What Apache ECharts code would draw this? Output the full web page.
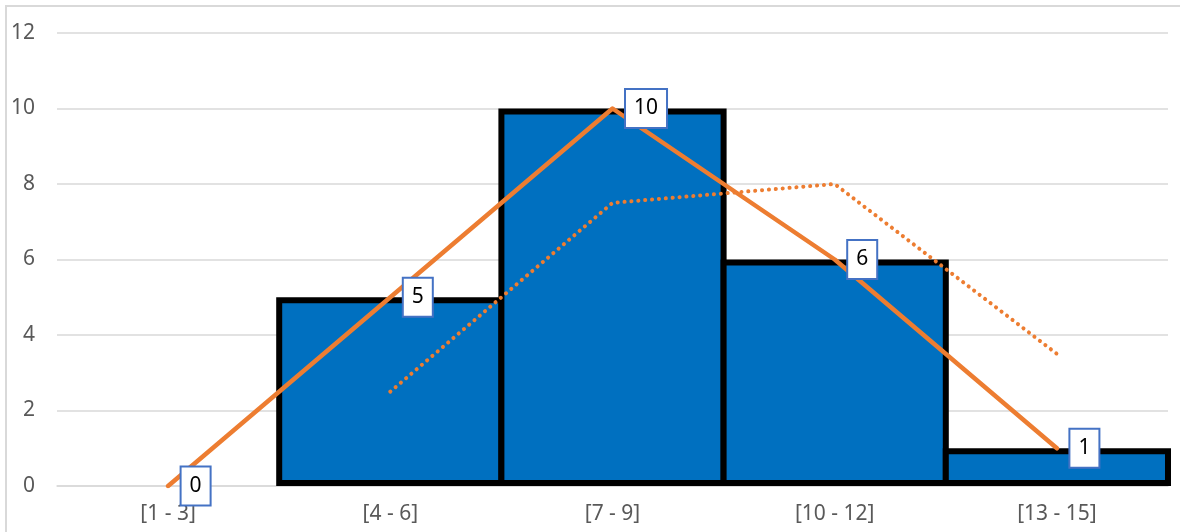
<!DOCTYPE html>
<html>
<head>
<meta charset="utf-8">
<script src="https://cdn.jsdelivr.net/npm/echarts@6/dist/echarts.min.js"></script>
<style>html,body{margin:0;padding:0;background:#fff;}#c{width:1180px;height:532px;}</style>
</head>
<body>
<div id="c"></div>
<script>
const categories = ['[1 - 3]', '[4 - 6]', '[7 - 9]', '[10 - 12]', '[13 - 15]'];
const barValues = [0, 5, 10, 6, 1];
const lineValues = [0, 5, 10, 6, 1];
const movingAvg = [null, 2.5, 7.5, 8, 3.5];
const yTicks = { min: 0, max: 12, interval: 2 };

const chart = echarts.init(document.getElementById('c'), null, { renderer: 'canvas' });
const font = '"Noto Sans", "Open Sans", sans-serif';
chart.setOption({
  animation: false,
  graphic: [{
    type: 'rect', shape: { x: 6, y: 6, width: 1190, height: 540 },
    style: { fill: 'none', stroke: '#d9d9d9', lineWidth: 2 }, silent: true, z: -1
  }],
  grid: { left: 57, right: 12, top: 33, bottom: 46 },
  xAxis: {
    type: 'category', data: categories,
    axisLine: { show: true, lineStyle: { color: '#d9d9d9', width: 1.5 } },
    axisTick: { show: false },
    axisLabel: { color: '#595959', fontSize: 21, fontFamily: font, margin: 18 }
  },
  yAxis: {
    type: 'value', min: yTicks.min, max: yTicks.max, interval: yTicks.interval,
    axisLine: { show: false }, axisTick: { show: false },
    splitLine: { lineStyle: { color: '#d9d9d9', width: 1.5 } },
    axisLabel: { color: '#595959', fontSize: 21, fontFamily: font, margin: 22 }
  },
  series: [
    {
      type: 'bar', barWidth: '102.7%',
      data: barValues.map(v => ({ value: v, itemStyle: { borderWidth: v === 0 ? 0 : 6 } })),
      itemStyle: { color: '#0070C0', borderColor: '#000', borderWidth: 6 },
      z: 2
    },
    {
      type: 'line', data: movingAvg, symbol: 'none', connectNulls: false,
      lineStyle: { color: '#ED7D31', width: 4, type: [0.1, 6.8], cap: 'round' },
      z: 3
    },
    {
      type: 'line', data: lineValues, symbol: 'circle', symbolSize: 1, showSymbol: true,
      itemStyle: { color: '#ED7D31', opacity: 0 },
      lineStyle: { color: '#ED7D31', width: 4.5, cap: 'round', join: 'round' },
      label: {
        show: true, position: 'right', distance: 13, offset: [0, 2], opacity: 1,
        color: '#000', fontSize: 21, fontFamily: font,
        backgroundColor: '#fff', borderColor: '#4472C4', borderWidth: 2,
        padding: [11, 8, 5, 8]
      },
      labelLayout: { hideOverlap: false },
      z: 4
    }
  ]
});
</script>
</body>
</html>
